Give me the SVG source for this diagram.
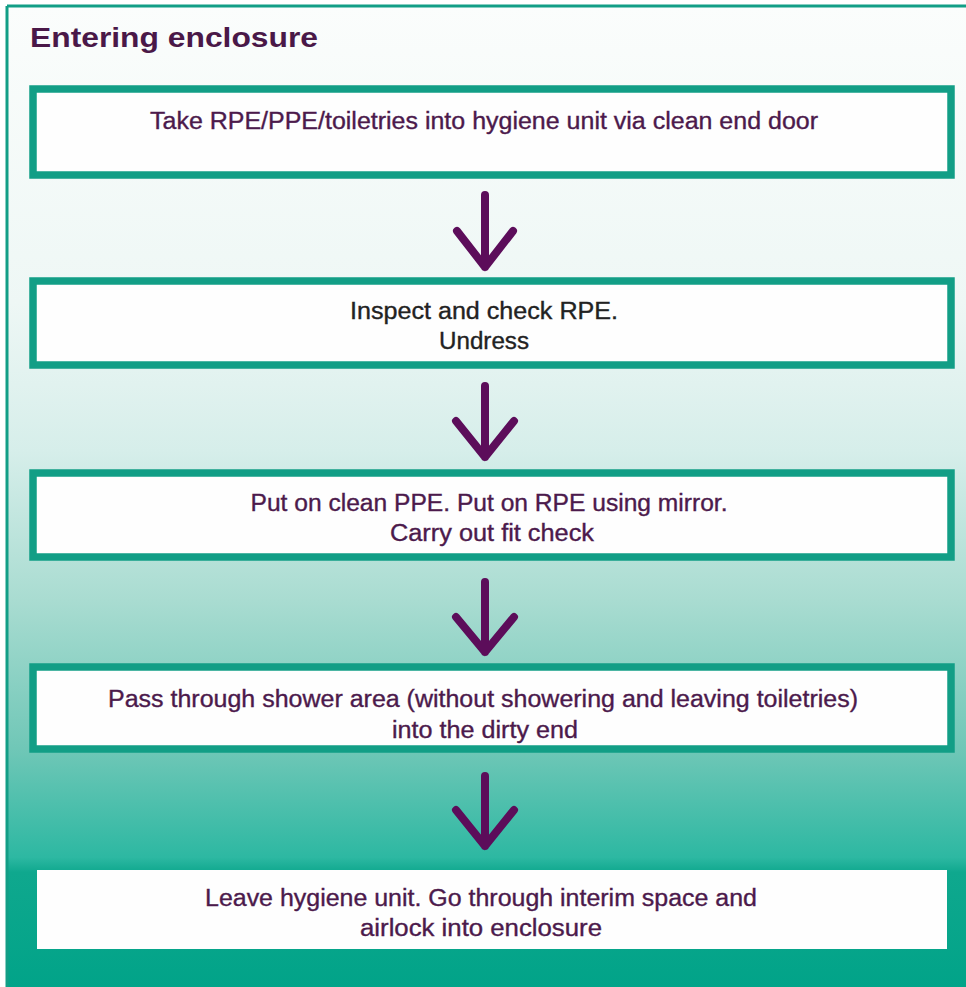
<svg xmlns="http://www.w3.org/2000/svg" width="966" height="987" viewBox="0 0 966 987">
<defs>
<linearGradient id="bg" x1="0" y1="0" x2="0" y2="1">
<stop offset="0" stop-color="#fbfdfc"/>
<stop offset="0.3" stop-color="#eef7f5"/>
<stop offset="0.45" stop-color="#d6eeea"/>
<stop offset="0.6" stop-color="#a9dcd1"/>
<stop offset="0.75" stop-color="#70c7b7"/>
<stop offset="0.86" stop-color="#2db8a2"/>
<stop offset="0.875" stop-color="#0fa88e"/>
<stop offset="1" stop-color="#00a388"/>
</linearGradient>
<style>
.box{fill:#fefefe;stroke:#129e86;stroke-width:7.5}
.t{font-family:"Liberation Sans",Arial,sans-serif;font-size:23px;fill:#4c1a4c;text-anchor:middle;stroke:#4c1a4c;stroke-width:0.35}
.d{fill:#222;stroke:#222}
.arrow{fill:none;stroke:#5c0d5a;stroke-width:8;stroke-linecap:round;stroke-linejoin:round}
</style>
</defs>
<rect x="0" y="0" width="966" height="987" fill="#ffffff"/>
<rect x="7" y="6" width="966" height="990" fill="url(#bg)"/>
<line x1="7" y1="6" x2="966" y2="6" stroke="#129e86" stroke-width="3"/>
<line x1="7" y1="6" x2="7" y2="987" stroke="#129e86" stroke-width="3"/>
<text x="30" y="47" font-family="'Liberation Sans',Arial,sans-serif" font-size="28" font-weight="bold" fill="#4a1848" textLength="288" lengthAdjust="spacingAndGlyphs">Entering enclosure</text>
<g id="node1"><rect class="box" x="33" y="89" width="918" height="86"/><text class="t" x="484" y="129" textLength="668" lengthAdjust="spacingAndGlyphs">Take RPE/PPE/toiletries into hygiene unit via clean end door</text></g>
<g id="node2"><rect class="box" x="33" y="281" width="918" height="84"/><text class="t d" x="484" y="319" textLength="268" lengthAdjust="spacingAndGlyphs">Inspect and check RPE.</text><text class="t d" x="484" y="349" textLength="90" lengthAdjust="spacingAndGlyphs">Undress</text></g>
<g id="node3"><rect class="box" x="33" y="473" width="918" height="84"/><text class="t" x="489" y="511" textLength="477" lengthAdjust="spacingAndGlyphs">Put on clean PPE. Put on RPE using mirror.</text><text class="t" x="492" y="541" textLength="204" lengthAdjust="spacingAndGlyphs">Carry out fit check</text></g>
<g id="node4"><rect class="box" x="33" y="667" width="918" height="82"/><text class="t" x="483" y="707" textLength="750" lengthAdjust="spacingAndGlyphs">Pass through shower area (without showering and leaving toiletries)</text><text class="t" x="485" y="738" textLength="186" lengthAdjust="spacingAndGlyphs">into the dirty end</text></g>
<g id="node5"><rect x="37" y="870" width="910" height="79" fill="#fefefe"/><text class="t" x="481" y="906" textLength="552" lengthAdjust="spacingAndGlyphs">Leave hygiene unit. Go through interim space and</text><text class="t" x="481" y="936" textLength="242" lengthAdjust="spacingAndGlyphs">airlock into enclosure</text></g>
<g id="connectors">
<path class="arrow" d="M485 195V267M457 231L485 267L513 231"/>
<path class="arrow" d="M485 386V457M456 421L485 457L514 421"/>
<path class="arrow" d="M485 582V652M456 617L485 652L514 617"/>
<path class="arrow" d="M485 776V846M456 810L485 846L514 810"/>
</g>
</svg>
